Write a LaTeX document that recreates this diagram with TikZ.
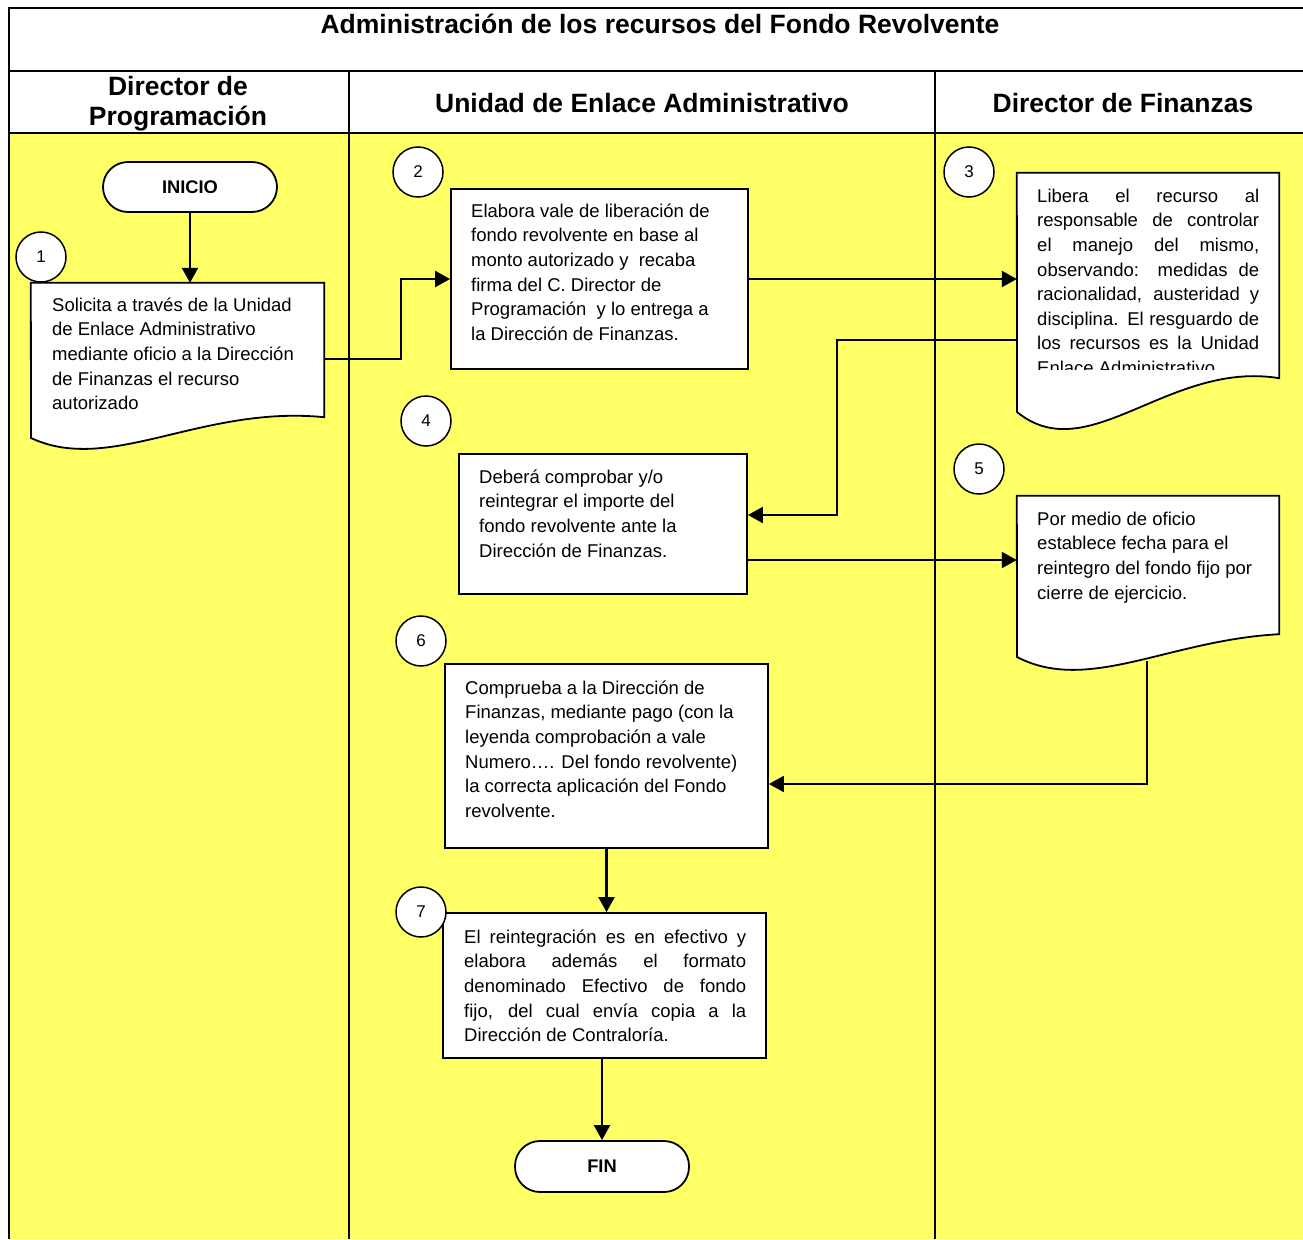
\documentclass[tikz,border=0pt]{standalone}
\usepackage{fontspec}
\setmainfont{Liberation Sans}
\usetikzlibrary{arrows.meta,calc}
\definecolor{lane}{RGB}{255,255,102}
\setlength{\parindent}{0pt}
\begin{document}
\begin{tikzpicture}[x=1pt,y=-1pt,
  frame/.style={line width=2pt},
  boxshape/.style={draw, line width=1.8pt, fill=white, rectangle, inner sep=0pt},
  anchorbox/.style={rectangle, inner sep=0pt, draw=none},
  docline/.style={draw, line width=1.8pt, fill=white},
  term/.style={draw, line width=1.8pt, fill=white, rectangle, rounded corners=25pt, inner sep=0pt, font=\fontsize{18.3}{20}\selectfont\bfseries},
  body/.style={font=\fontsize{18.5}{24.6}\selectfont, inner sep=0pt, anchor=north west, align=left},
  head/.style={font=\fontsize{26.5}{30}\selectfont\bfseries, inner sep=0pt, anchor=base},
  num/.style={draw, circle, line width=1.5pt, fill=white, minimum size=50pt, inner sep=0pt, font=\fontsize{17}{20}\selectfont},
  conn/.style={line width=2.3pt, -{Triangle[length=15pt,width=16pt]}},
  plain/.style={line width=2.3pt}]
\useasboundingbox (0,0) rectangle (1303,1239);
% background and frame
\fill[lane] (9,133) rectangle (1303,1239);
\draw[frame] (9,1239) -- (9,8) -- (1303,8);
\draw[frame] (9,71) -- (1303,71);
\draw[frame] (9,133) -- (1303,133);
\draw[frame] (349,71) -- (349,1239);
\draw[frame] (935,71) -- (935,1239);
% headings
\node[head] (title) at (660,34) {Administración de los recursos del Fondo Revolvente};
\node[head] (h1a) at (178,95) {Director de};
\node[head] (h1b) at (178,125) {Programación};
\node[head] (h2) at (642,112) {Unidad de Enlace Administrativo};
\node[head] (h3) at (1123,112) {Director de Finanzas};
% terminals
\node[term, minimum width=174pt, minimum height=50pt] (start) at (190,187) {INICIO};
\node[term, minimum width=174pt, minimum height=51pt] (fin) at (602,1166.5) {FIN};
% document 1
\node[anchorbox, minimum width=293pt, minimum height=134pt] (d1) at (177.5,350) {};
\draw[docline] (d1.north west) -- (d1.north east) -- (d1.south east)
  .. controls (201,405) and (110,475) .. (31,438) -- cycle;
\node[body] (t1) at (52,292) {\rule{0pt}{19pt}Solicita a través de la Unidad\\de Enlace Administrativo\\mediante oficio a la Dirección\\de Finanzas el recurso\\autorizado};
% box 2
\node[boxshape, minimum width=297pt, minimum height=180pt] (b2) at (599.5,279) {};
\node[body] (t2) at (471,198) {\rule{0pt}{19pt}Elabora vale de liberación de\\fondo revolvente en base al\\monto autorizado y~ recaba\\firma del C. Director de\\Programación~ y lo entrega a\\la Dirección de Finanzas.};
% document 3
\node[anchorbox, minimum width=262pt, minimum height=205pt] (d3) at (1148,275.5) {};
\draw[docline] (d3.north west) -- (d3.north east) -- (d3.south east)
  .. controls (1169,360) and (1088,470) .. (1017,412) -- cycle;
\begin{scope}
\clip (1017,173) rectangle (1279,369);
\node[body] (t3) at (1037,183) {\rule{0pt}{19pt}\makebox[222pt][s]{Libera el recurso al}\\\makebox[222pt][s]{responsable de controlar}\\\makebox[222pt][s]{el manejo del mismo,}\\\makebox[222pt][s]{observando: medidas de}\\\makebox[222pt][s]{racionalidad, austeridad y}\\\makebox[222pt][s]{disciplina. El resguardo de}\\\makebox[222pt][s]{los recursos es la Unidad}\\Enlace Administrativo};
\end{scope}
% box 4
\node[boxshape, minimum width=288pt, minimum height=140pt] (b4) at (603,524) {};
\node[body] (t4) at (479,464) {\rule{0pt}{19pt}Deberá comprobar y/o\\reintegrar el importe del\\fondo revolvente ante la\\Dirección de Finanzas.};
% document 5
\node[anchorbox, minimum width=262pt, minimum height=138pt] (d5) at (1148,565) {};
\draw[docline] (d5.north west) -- (d5.north east) -- (d5.south east)
  .. controls (1169,640) and (1088,694) .. (1017,657) -- cycle;
\node[body] (t5) at (1037,506) {\rule{0pt}{19pt}Por medio de oficio\\establece fecha para el\\reintegro del fondo fijo por\\cierre de ejercicio.};
\coordinate (d5w) at (1147,661);
% box 6
\node[boxshape, minimum width=323pt, minimum height=184pt] (b6) at (606.5,756) {};
\node[body] (t6) at (465,675) {\rule{0pt}{19pt}Comprueba a la Dirección de\\Finanzas, mediante pago (con la\\leyenda comprobación a vale\\Numero…. Del fondo revolvente)\\la correcta aplicación del Fondo\\revolvente.};
% box 7
\node[boxshape, minimum width=323pt, minimum height=145pt] (b7) at (604.5,985.5) {};
\node[body] (t7) at (464,924) {\rule{0pt}{19pt}\makebox[282pt][s]{El reintegración es en efectivo y}\\\makebox[282pt][s]{elabora además el formato}\\\makebox[282pt][s]{denominado Efectivo de fondo}\\\makebox[282pt][s]{fijo, del cual envía copia a la}\\Dirección de Contraloría.};
% connectors
\draw[conn] (start.south) -- (start.south |- d1.north);
\draw[conn] ([yshift=-9pt]d1.east) -- ++(77,0) |- (b2.west);
\draw[conn] (b2.east) -- (b2.east -| d3.west);
\draw[conn] ([yshift=-64.5pt]d3.west) -- ++(-180,0) |- ([yshift=9pt]b4.east);
\draw[conn] ([yshift=-36pt]b4.east) -- ([yshift=-36pt]b4.east -| d5.west);
\draw[conn] (d5w) |- ([yshift=-28pt]b6.east);
\draw[conn] (b6.south) -- (b6.south |- b7.north);
\draw[conn] (b7.south -| fin.north) -- (fin.north);
% step numbers
\node[num] (n1) at (41,257) {1};
\node[num] (n2) at (418,172) {2};
\node[num] (n3) at (969,172) {3};
\node[num] (n4) at (426,421) {4};
\node[num] (n5) at (979,469) {5};
\node[num] (n6) at (421,641) {6};
\node[num] (n7) at (421,912) {7};
\end{tikzpicture}
\end{document}
